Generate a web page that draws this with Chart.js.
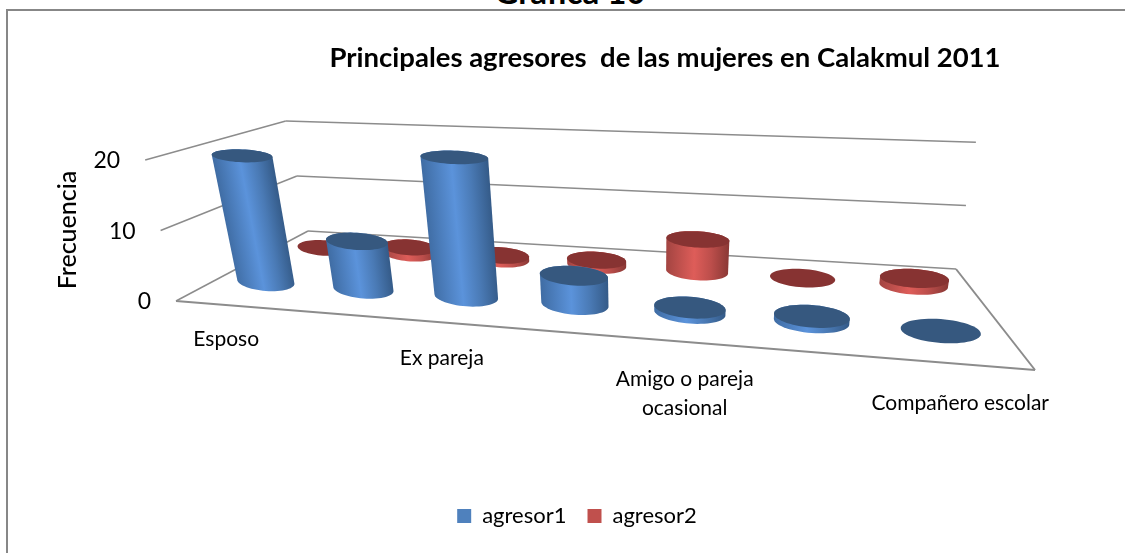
<!DOCTYPE html>
<html>
<head>
<meta charset="utf-8">
<title>Principales agresores</title>
<script src="https://cdn.jsdelivr.net/npm/chart.js@4"></script>
<style>
    html, body { margin: 0; padding: 0; background: #fff; overflow: hidden; }
    #wrap { position: relative; width: 1125px; height: 553px; overflow: hidden; }
    #frame { position: absolute; left: 6px; top: 9px; width: 1200px; height: 600px; border: 2px solid #878787; }
    #head { position: absolute; left: 0; width: 1140px; top: -29px; text-align: center; font: bold 33px Lato, sans-serif; color: #000; }
    canvas { position: absolute; left: 0; top: 0; }
</style>
</head>
<body>
<div id="wrap">
    <div id="frame"></div>
    <div id="head">Gráfica 10</div>
    <canvas id="graph1" width="1125" height="553"></canvas>
</div>
<script>
"use strict"

const categories = ['Esposo', '', 'Ex pareja', '', ['Amigo o pareja', 'ocasional'], '', 'Compañero escolar'];
const agresor1 = [19, 7, 20, 4, 0.7, 0.7, 0];
const agresor2 = [0, 1, 0.6, 0.8, 5, 0, 1];
const yTicks = [0, 10, 20];

// corners of the floor, front left / front right / back right / back left
const floorQuad = [[176, 301], [1035, 370], [956, 269], [308, 231]];
const rowDepth = [0.27, 0.75];
const radiusU = 0.043, radiusV = 0.085;

function homography(q) {
    const [p0, p1, p2, p3] = q;
    const sx = p0[0] - p1[0] + p2[0] - p3[0], sy = p0[1] - p1[1] + p2[1] - p3[1];
    const dx1 = p1[0] - p2[0], dx2 = p3[0] - p2[0], dy1 = p1[1] - p2[1], dy2 = p3[1] - p2[1];
    const den = dx1 * dy2 - dx2 * dy1;
    const g = (sx * dy2 - dx2 * sy) / den, h = (dx1 * sy - sx * dy1) / den;
    const a = p1[0] - p0[0] + g * p1[0], b = p3[0] - p0[0] + h * p3[0];
    const d = p1[1] - p0[1] + g * p1[1], e = p3[1] - p0[1] + h * p3[1];
    return (u, v) => {
        const w = g * u + h * v + 1;
        return [(a * u + b * v + p0[0]) / w, (d * u + e * v + p0[1]) / w];
    };
}
const floorAt = homography(floorQuad);

// u, v on the floor (0..1), t = height as a fraction of the y scale
// verticals spread out from x=650 going up, full height grows with floor y
function project(u, v, t) {
    const a = floorAt(u, v);
    const fullH = 110 + 0.443 * (a[1] - 231);
    return [a[0] + (a[0] - 650) * 0.065 * t, a[1] - fullH * t];
}

// screen ellipse: long axis follows the row direction, short axis stays upright
function ring(u, v, t) {
    const c = project(u, v, t);
    const r = project(u + radiusU, v, t), l = project(u - radiusU, v, t);
    const b = project(u, v + radiusV, t), f = project(u, v - radiusV, t);
    const rx = (r[0] - l[0]) / 2, slope = (r[1] - l[1]) / (r[0] - l[0]);
    const ry = (f[1] - b[1]) / 2 + 2.5;
    const pts = [];
    for (let i = 0; i < 60; i++) {
        const ang = i / 60 * Math.PI * 2;
        const ex = rx * Math.cos(ang), ey = ry * Math.sin(ang);
        pts.push([c[0] + ex, c[1] + ey + ex * slope]);
    }
    return pts;
}

function hull(points) {
    const p = points.slice().sort((a, b) => a[0] - b[0] || a[1] - b[1]);
    const cross = (o, a, b) => (a[0] - o[0]) * (b[1] - o[1]) - (a[1] - o[1]) * (b[0] - o[0]);
    const lower = [], upper = [];
    for (const q of p) {
        while (lower.length > 1 && cross(lower[lower.length - 2], lower[lower.length - 1], q) <= 0) lower.pop();
        lower.push(q);
    }
    for (const q of p.slice().reverse()) {
        while (upper.length > 1 && cross(upper[upper.length - 2], upper[upper.length - 1], q) <= 0) upper.pop();
        upper.push(q);
    }
    return lower.slice(0, -1).concat(upper.slice(0, -1));
}

function fillPoly(ctx, pts, fill) {
    ctx.beginPath();
    pts.forEach((p, i) => i ? ctx.lineTo(p[0], p[1]) : ctx.moveTo(p[0], p[1]));
    ctx.closePath();
    ctx.fillStyle = fill;
    ctx.fill();
}

function drawCylinder(ctx, u, v, t, look) {
    const base = ring(u, v, 0), cap = ring(u, v, t);
    if (t > 0) {
        const b = project(u, v, 0), c = project(u, v, t);
        const len = Math.hypot(c[0] - b[0], c[1] - b[1]) || 1;
        // unit vector across the cylinder, pointing right
        const nx = (b[1] - c[1]) / len, ny = (c[0] - b[0]) / len;
        const all = base.concat(cap);
        const off = all.map(p => (p[0] - b[0]) * nx + (p[1] - b[1]) * ny);
        const lo = Math.min(...off), hi = Math.max(...off);
        const grad = ctx.createLinearGradient(b[0] + nx * lo, b[1] + ny * lo, b[0] + nx * hi, b[1] + ny * hi);
        grad.addColorStop(0, look.left);
        grad.addColorStop(0.45, look.light);
        grad.addColorStop(0.72, look.mid);
        grad.addColorStop(1, look.edge);
        fillPoly(ctx, hull(all), grad);
    }
    fillPoly(ctx, cap, look.cap);
}

const looks = [
    { left: '#3F6CA3', edge: '#345A87', mid: '#4A7AB5', light: '#5B93DB', cap: '#36587F' },
    { left: '#A24441', edge: '#8A3835', mid: '#BC4E4B', light: '#DE5D59', cap: '#873332' }
];

function line(ctx, a, b, width) {
    ctx.beginPath();
    ctx.moveTo(a[0], a[1]);
    ctx.lineTo(b[0], b[1]);
    ctx.lineWidth = width;
    ctx.strokeStyle = '#8C8C8C';
    ctx.stroke();
}

const scene3d = {
    id: 'scene3d',
    beforeDatasetsDraw(chart) {
        const ctx = chart.ctx, xs = chart.scales.x, ys = chart.scales.y;
        const area = chart.chartArea;
        const toU = i => (xs.getPixelForValue(i) - area.left) / area.width;
        const toT = val => (area.bottom - ys.getPixelForValue(val)) / area.height;

        ctx.save();
        // walls and floor
        ys.ticks.forEach(tick => {
            const t = toT(tick.value);
            line(ctx, project(0, 0, t), project(0, 1, t), 1.5);
            line(ctx, project(0, 1, t), project(1, 1, t), 1.5);
        });
        line(ctx, project(0, 0, 0), project(1, 0, 0), 2);
        line(ctx, project(1, 0, 0), project(1, 1, 0), 2);

        // back row first so the front row covers it
        [1, 0].forEach(ds => {
            chart.data.datasets[ds].data.forEach((val, i) => {
                drawCylinder(ctx, toU(i), rowDepth[ds], toT(val), looks[ds]);
            });
        });

        // axis text
        ctx.fillStyle = '#000';
        ctx.textBaseline = 'middle';
        ctx.font = '23px Lato, sans-serif';
        ys.ticks.forEach(tick => {
            const p = project(0, 0, toT(tick.value));
            ctx.textAlign = 'right';
            ctx.fillText(String(tick.value), p[0] - 25, p[1] + 1);
        });
        ctx.textAlign = 'center';
        ctx.font = '21px Lato, sans-serif';
        chart.data.labels.forEach((label, i) => {
            const u = toU(i);
            const p = project(u, 0, 0);
            const lines = Array.isArray(label) ? label : [label];
            lines.forEach((txt, n) => {
                ctx.fillText(txt, p[0], p[1] + 34 + 6 * u + n * 29);
            });
        });

        ctx.font = 'bold 27.5px Lato, sans-serif';
        ctx.fillText('Principales agresores  de las mujeres en Calakmul 2011', 665, 58);

        ctx.translate(68, 230);
        ctx.rotate(-Math.PI / 2);
        ctx.font = '500 25px Lato, sans-serif';
        ctx.fillText('Frecuencia', 0, 0);
        ctx.restore();
        return false;
    }
};

const plotData = {
    labels: categories,
    datasets: [
        { label: 'agresor1', data: agresor1, backgroundColor: '#4F81BD' },
        { label: 'agresor2', data: agresor2, backgroundColor: '#C0504D' }
    ]
};

const config = {
    type: 'bar',
    data: plotData,
    options: {
        responsive: false,
        animation: false,
        layout: { padding: { left: 176, right: 147, top: 160, bottom: 16 } },
        scales: {
            x: { display: false },
            y: {
                display: false,
                min: 0,
                max: 20,
                afterBuildTicks: scale => { scale.ticks = yTicks.map(v => ({ value: v })); }
            }
        },
        plugins: {
            title: { display: false },
            tooltip: { enabled: false },
            legend: {
                display: true,
                position: 'bottom',
                labels: { boxWidth: 14, boxHeight: 14, padding: 21, color: '#000', font: { family: 'Lato', size: 22 } }
            }
        }
    },
    plugins: [scene3d]
};

const canvas = document.getElementById('graph1').getContext('2d');
const chart1 = new Chart(canvas, config);
</script>
</body>
</html>
